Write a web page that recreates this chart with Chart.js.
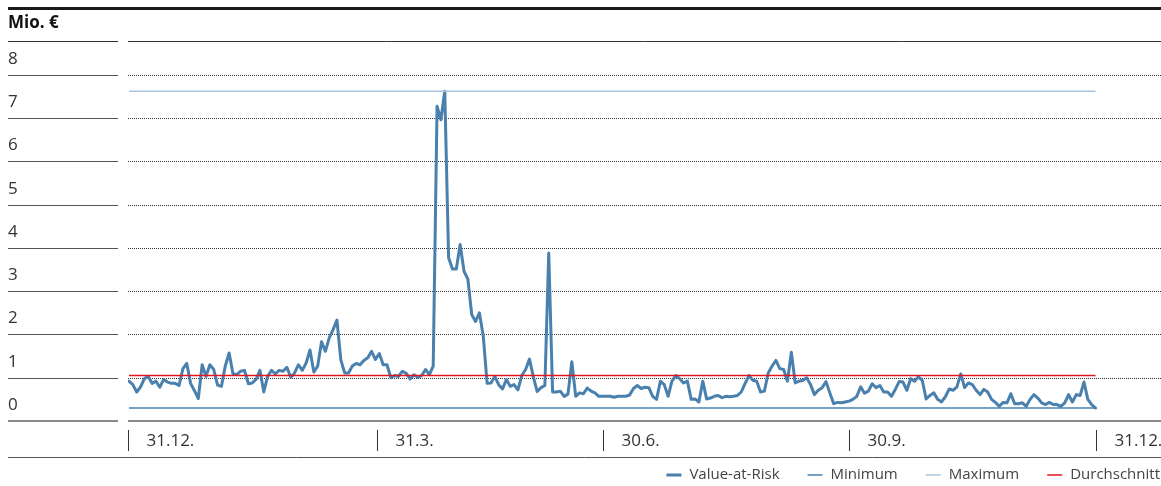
<!DOCTYPE html>
<html>
<head>
<meta charset="utf-8">
<script src="https://cdn.jsdelivr.net/npm/chart.js@4.4.0/dist/chart.umd.min.js"></script>
<style>
  html, body { margin: 0; padding: 0; background: #fff; }
  #wrap { width: 1161px; height: 486px; position: relative; }
</style>
</head>
<body>
<div id="wrap"><canvas id="varChart"></canvas></div>
<script>
// Value-at-Risk, Mio. €, one value per trading day
const varValues = [
  0.92, 0.84, 0.67, 0.79, 0.98, 1.03, 0.87, 0.92, 0.78, 0.96,
  0.90, 0.87, 0.87, 0.82, 1.21, 1.33, 0.87, 0.70, 0.52, 1.30,
  1.03, 1.30, 1.19, 0.83, 0.80, 1.27, 1.57, 1.09, 1.07, 1.15,
  1.17, 0.86, 0.88, 0.96, 1.17, 0.67, 1.03, 1.17, 1.09, 1.17,
  1.15, 1.24, 1.01, 1.11, 1.30, 1.17, 1.34, 1.64, 1.13, 1.27,
  1.83, 1.61, 1.92, 2.11, 2.33, 1.42, 1.11, 1.11, 1.27, 1.33,
  1.30, 1.40, 1.46, 1.61, 1.42, 1.56, 1.30, 1.30, 1.00, 1.05,
  1.03, 1.15, 1.10, 0.97, 1.07, 1.01, 1.05, 1.19, 1.07, 1.27,
  7.27, 6.96, 7.62, 3.77, 3.51, 3.51, 4.08, 3.46, 3.28, 2.46,
  2.30, 2.50, 1.96, 0.87, 0.88, 1.03, 0.84, 0.74, 0.96, 0.80,
  0.84, 0.72, 1.05, 1.19, 1.43, 1.02, 0.68, 0.77, 0.82, 3.88,
  0.67, 0.67, 0.69, 0.57, 0.62, 1.37, 0.57, 0.65, 0.63, 0.76,
  0.69, 0.65, 0.57, 0.57, 0.57, 0.57, 0.55, 0.57, 0.57, 0.57,
  0.60, 0.75, 0.82, 0.75, 0.78, 0.77, 0.57, 0.50, 0.92, 0.84,
  0.57, 0.92, 1.05, 0.98, 0.88, 0.92, 0.50, 0.51, 0.44, 0.92,
  0.51, 0.53, 0.57, 0.59, 0.54, 0.57, 0.56, 0.57, 0.59, 0.67,
  0.87, 1.05, 0.94, 0.92, 0.67, 0.69, 1.11, 1.27, 1.40, 1.21,
  1.19, 0.92, 1.59, 0.88, 0.92, 0.94, 1.00, 0.84, 0.61, 0.71,
  0.77, 0.91, 0.65, 0.40, 0.43, 0.42, 0.44, 0.46, 0.50, 0.57,
  0.79, 0.64, 0.69, 0.86, 0.77, 0.82, 0.67, 0.67, 0.57, 0.73,
  0.91, 0.90, 0.71, 0.98, 0.92, 1.02, 0.94, 0.51, 0.59, 0.65,
  0.50, 0.44, 0.56, 0.74, 0.71, 0.79, 1.09, 0.77, 0.88, 0.84,
  0.71, 0.61, 0.73, 0.67, 0.50, 0.43, 0.34, 0.43, 0.42, 0.63,
  0.40, 0.40, 0.42, 0.34, 0.50, 0.61, 0.53, 0.42, 0.38, 0.43,
  0.38, 0.38, 0.34, 0.42, 0.61, 0.44, 0.61, 0.59, 0.90, 0.50,
  0.38, 0.30
];
const minValue = 0.30;
const maxValue = 7.62;
const avgValue = 1.05;

const yTicks = [0, 1, 2, 3, 4, 5, 6, 7, 8];
const quarterTicks = [-0.25, 64.5, 123, 187, 251];
const quarterLabels = ['31.12.', '31.3.', '30.6.', '30.9.', '31.12.'];
const seriesNames = ['Value-at-Risk', 'Minimum', 'Maximum', 'Durchschnitt'];
const seriesColors = ['#4a80ad', '#4a80ad', '#a9c4dc', '#e3161e'];
const seriesWidths = [3, 1.5, 1.5, 1.5];

const FONT = '"Open Sans", "Noto Sans", sans-serif';
const lastIdx = varValues.length - 1;

function flatLine(v) {
  return [{ x: 0, y: v }, { x: lastIdx, y: v }];
}

// grid, labels, header, x axis and legend
const framePlugin = {
  id: 'frame',
  beforeDatasetsDraw(chart) {
    const { ctx, chartArea: a, scales } = chart;
    const y = scales.y;
    ctx.save();

    // header bar and title
    ctx.fillStyle = '#1a1a1a';
    ctx.fillRect(8, 7, 1153, 3);
    ctx.font = 'bold 17px ' + FONT;
    ctx.textBaseline = 'middle';
    ctx.textAlign = 'left';
    ctx.fillStyle = '#111';
    ctx.fillText('Mio. €', 8, 23);

    // top rule
    ctx.strokeStyle = '#333';
    ctx.lineWidth = 1;
    ctx.beginPath();
    ctx.moveTo(8, a.top + 0.5); ctx.lineTo(118, a.top + 0.5);
    ctx.moveTo(a.left, a.top + 0.5); ctx.lineTo(a.right, a.top + 0.5);
    ctx.stroke();

    yTicks.forEach(v => {
      const py = Math.round(y.getPixelForValue(v));
      if (v === 0) {
        ctx.strokeStyle = '#8a8a8a';
        ctx.lineWidth = 2;
        ctx.setLineDash([]);
        ctx.beginPath();
        ctx.moveTo(8, py); ctx.lineTo(118, py);
        ctx.moveTo(a.left, py); ctx.lineTo(a.right, py);
        ctx.stroke();
      } else {
        ctx.strokeStyle = '#555';
        ctx.lineWidth = 1;
        ctx.setLineDash([]);
        ctx.beginPath();
        ctx.moveTo(8, py + 0.5); ctx.lineTo(118, py + 0.5);
        ctx.stroke();
        ctx.strokeStyle = '#333';
        ctx.setLineDash([1, 1]);
        ctx.beginPath();
        ctx.moveTo(a.left, py + 0.5); ctx.lineTo(a.right, py + 0.5);
        ctx.stroke();
        ctx.setLineDash([]);
      }
      ctx.fillStyle = '#333';
      ctx.font = '17px ' + FONT;
      ctx.textAlign = 'left';
      ctx.textBaseline = 'middle';
      ctx.fillText(String(v), 8, py - 16);
    });
    ctx.restore();
  },
  afterDraw(chart) {
    const { ctx, scales } = chart;
    const x = scales.x;
    ctx.save();

    // quarter ticks and labels
    ctx.strokeStyle = '#333';
    ctx.lineWidth = 1;
    ctx.fillStyle = '#333';
    ctx.font = '17px ' + FONT;
    ctx.textAlign = 'left';
    ctx.textBaseline = 'middle';
    quarterTicks.forEach((t, i) => {
      const px = Math.round(x.getPixelForValue(t)) + 0.5;
      ctx.beginPath();
      ctx.moveTo(px, 430); ctx.lineTo(px, 451);
      ctx.stroke();
      ctx.fillText(quarterLabels[i], px + 18, 441);
    });

    // bottom rule
    ctx.strokeStyle = '#555';
    ctx.beginPath();
    ctx.moveTo(8, 457.5); ctx.lineTo(1161, 457.5);
    ctx.stroke();

    // legend, right aligned
    ctx.font = '15px ' + FONT;
    ctx.fillStyle = '#444';
    let right = 1160;
    for (let i = seriesNames.length - 1; i >= 0; i--) {
      const w = ctx.measureText(seriesNames[i]).width;
      const tx = right - w;
      ctx.fillText(seriesNames[i], tx, 475);
      ctx.strokeStyle = seriesColors[i];
      ctx.lineWidth = i === 0 ? 3 : 1.5;
      ctx.beginPath();
      ctx.moveTo(tx - 23, 475); ctx.lineTo(tx - 8, 475);
      ctx.stroke();
      right = tx - 23 - 28;
    }
    ctx.restore();
  }
};

new Chart(document.getElementById('varChart'), {
  type: 'line',
  data: {
    datasets: [
      {
        label: seriesNames[3],
        data: flatLine(avgValue),
        borderColor: seriesColors[3],
        borderWidth: seriesWidths[3],
        order: 0
      },
      {
        label: seriesNames[1],
        data: flatLine(minValue),
        borderColor: seriesColors[1],
        borderWidth: seriesWidths[1],
        order: 1
      },
      {
        label: seriesNames[2],
        data: flatLine(maxValue),
        borderColor: seriesColors[2],
        borderWidth: seriesWidths[2],
        order: 2
      },
      {
        label: seriesNames[0],
        data: varValues.map((v, i) => ({ x: i, y: v })),
        borderColor: seriesColors[0],
        borderWidth: seriesWidths[0],
        borderJoinStyle: 'round',
        borderCapStyle: 'round',
        order: 3
      }
    ]
  },
  options: {
    responsive: true,
    maintainAspectRatio: false,
    animation: false,
    events: [],
    layout: {
      padding: { left: 128, right: 0, top: 41, bottom: 65 }
    },
    elements: {
      point: { radius: 0 },
      line: { tension: 0 }
    },
    plugins: {
      legend: { display: false },
      tooltip: { enabled: false }
    },
    scales: {
      x: {
        type: 'linear',
        min: -0.26,
        max: 268,
        display: false
      },
      y: {
        min: 0,
        max: 8.78,
        display: false
      }
    }
  },
  plugins: [framePlugin]
});
</script>
</body>
</html>
